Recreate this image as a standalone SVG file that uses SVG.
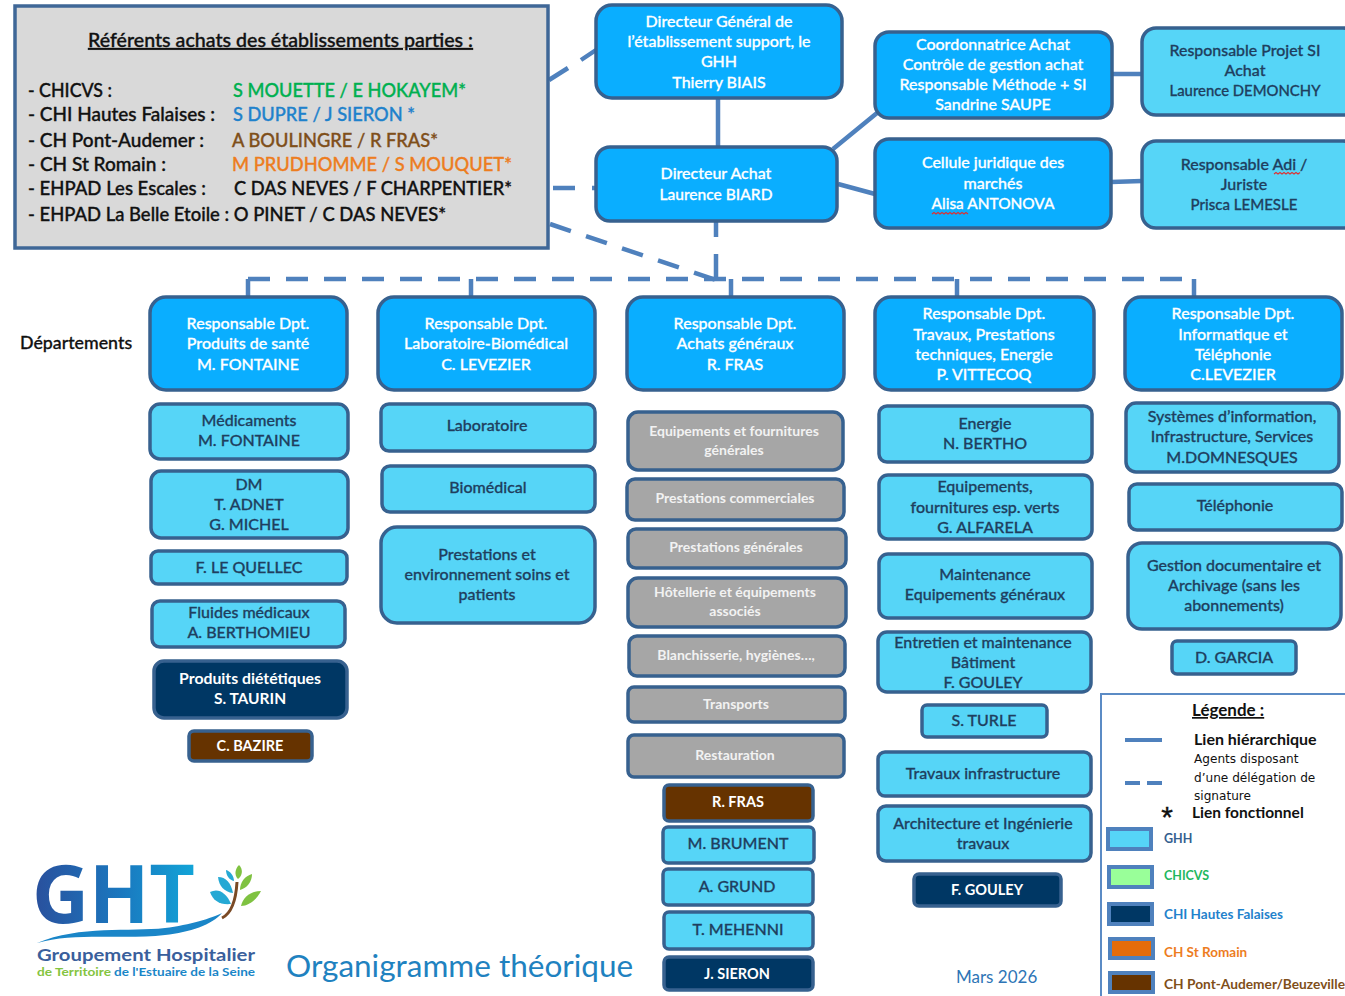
<svg xmlns="http://www.w3.org/2000/svg" width="1345" height="996" viewBox="0 0 1345 996">
<style>
text{font-family:"Lato","Liberation Sans",sans-serif;font-size:16px;font-weight:500}
.n rect{stroke:#37618f;stroke-width:3.5}
.n text{text-anchor:middle;stroke-width:.3}
.top rect{fill:#0aaeff}.top text{fill:#fff;stroke:#fff}
.lite rect{fill:#56d5f7}.lite text{fill:#1f3f5f;stroke:#1f3f5f;transform:translateY(.3px)}
.grey rect{fill:#a6a6a6}.grey text{font-size:14px;font-weight:700;fill:#f2f2f2;stroke:none}
.navy rect{fill:#003764}.brown rect{fill:#663300}
.navy text,.brown text{font-weight:700;font-size:14.5px;fill:#fff;stroke:none}
.sol{fill:none;stroke:#4f81bd;stroke-width:4.5}
.das{fill:none;stroke:#4f81bd;stroke-width:4.5}
.dash{stroke-dasharray:22 16}
.ref text{font-size:18.5px;stroke-width:.35}
.leg text{font-size:15.5px;fill:#111}
.small{font-size:12.1px!important;font-family:"DejaVu Sans",sans-serif!important;font-weight:400}
.sw rect{stroke:#4f81bd;stroke-width:4}
.sw text{font-size:13.5px;font-weight:700}
.wavy{fill:none;stroke:#e03030;stroke-width:1.1}
</style>
<defs>
<linearGradient id="g" x1="0" x2="1" y1="0" y2="0"><stop offset="0" stop-color="#2a4f9c"/><stop offset=".55" stop-color="#1a78bf"/><stop offset="1" stop-color="#12a5d8"/></linearGradient>
</defs>
<g id="connectors">
<path class="sol" d="M718 98V147M833 149L877 113M838 184L875 194M1112 74H1142M1111 182L1142 181"/>
<path class="das" d="M549 80L568 68M581 60L596 50M553 188H575M592 188H596M716 221V237M716 254V280"/>
<path class="das dash" d="M550 224L716 280"/>
<path class="das dash" d="M248 279H1195"/>
<path class="sol" d="M248 279V297M471 279V297M731 279V297M957 279V297M1194 279V297"/>
</g>
<g id="referents" class="ref" stroke="#111" fill="#111">
<rect x="15" y="6" width="533" height="242" fill="#d9d9d9" stroke="#3f6797" stroke-width="3.5"/>
<text x="88" y="47" textLength="385" lengthAdjust="spacingAndGlyphs" text-decoration="underline">Référents achats des établissements parties :</text>
<text x="28" y="97" textLength="84" lengthAdjust="spacingAndGlyphs">- CHICVS :</text><text x="233" y="97" fill="#00b050" stroke="#00b050" textLength="233" lengthAdjust="spacingAndGlyphs">S MOUETTE / E HOKAYEM*</text>
<text x="28" y="121" textLength="187" lengthAdjust="spacingAndGlyphs">- CHI Hautes Falaises :</text><text x="233" y="121" fill="#1f82cc" stroke="#1f82cc" textLength="182" lengthAdjust="spacingAndGlyphs">S DUPRE / J SIERON *</text>
<text x="28" y="147" textLength="176" lengthAdjust="spacingAndGlyphs">- CH Pont-Audemer :</text><text x="232" y="147" fill="#7f4f1a" stroke="#7f4f1a" textLength="206" lengthAdjust="spacingAndGlyphs">A BOULINGRE / R FRAS*</text>
<text x="28" y="171" textLength="138" lengthAdjust="spacingAndGlyphs">- CH St Romain :</text><text x="232" y="171" fill="#ed7d1f" stroke="#ed7d1f" textLength="280" lengthAdjust="spacingAndGlyphs">M PRUDHOMME / S MOUQUET*</text>
<text x="28" y="195" textLength="178" lengthAdjust="spacingAndGlyphs">- EHPAD Les Escales :</text><text x="234" y="195" textLength="278" lengthAdjust="spacingAndGlyphs">C DAS NEVES  / F CHARPENTIER*</text>
<text x="28" y="221" textLength="418" lengthAdjust="spacingAndGlyphs">- EHPAD La Belle Etoile : O PINET / C DAS NEVES*</text>
</g>
<g id="dg" class="n top"><rect x="596" y="5" width="246" height="93" rx="16"/><text x="719" y="27">Directeur Général de</text><text x="719" y="47">l’établissement support, le</text><text x="719" y="67">GHH</text><text x="719" y="88">Thierry BIAIS</text></g>
<g id="da" class="n top"><rect x="596" y="147" width="241" height="74" rx="14"/><text x="716" y="179">Directeur Achat</text><text x="716" y="200" textLength="113" lengthAdjust="spacingAndGlyphs">Laurence BIARD</text></g>
<g id="coord" class="n top"><rect x="875" y="32" width="237" height="86" rx="14"/><text x="993" y="50">Coordonnatrice Achat</text><text x="993" y="70">Contrôle de gestion achat</text><text x="993" y="90" textLength="187" lengthAdjust="spacingAndGlyphs">Responsable Méthode + SI</text><text x="993" y="110">Sandrine SAUPE</text></g>
<g id="cellule" class="n top"><rect x="875" y="139" width="236" height="89" rx="14"/><text x="993" y="168">Cellule juridique des</text><text x="993" y="189">marchés</text><text x="993" y="209" textLength="123" lengthAdjust="spacingAndGlyphs">Alisa ANTONOVA</text><path class="wavy" d="M932 214l2-1.500 2 1.500 2-1.500 2 1.500 2-1.500 2 1.500 2-1.500 2 1.500 2-1.500 2 1.500 2-1.500 2 1.500 2-1.500 2 1.500 2-1.500 2 1.500 2-1.500 2 1.500"/></g>
<g id="projet" class="n lite"><rect x="1142" y="28" width="215" height="87" rx="14"/><text x="1245" y="56" textLength="151" lengthAdjust="spacingAndGlyphs">Responsable Projet SI</text><text x="1245" y="76">Achat</text><text x="1245" y="96" textLength="151" lengthAdjust="spacingAndGlyphs">Laurence DEMONCHY</text></g>
<g id="adi" class="n lite"><rect x="1142" y="141" width="215" height="87" rx="14"/><text x="1244" y="170">Responsable Adi /</text><text x="1244" y="190">Juriste</text><text x="1244" y="210" textLength="107" lengthAdjust="spacingAndGlyphs">Prisca LEMESLE</text><path class="wavy" d="M1274 174l2-1.500 2 1.500 2-1.500 2 1.500 2-1.500 2 1.500 2-1.500 2 1.500 2-1.500 2 1.500 2-1.500 2 1.500 2-1.500"/></g>

<text id="departements" x="20" y="349" style="font-size:17.800px;stroke:#111;stroke-width:.3" fill="#111">Départements</text>

<g id="d1" class="n top"><rect x="150" y="297" width="197" height="93" rx="16"/><text x="248" y="329">Responsable Dpt.</text><text x="248" y="349">Produits de santé</text><text x="248" y="370">M. FONTAINE</text></g>
<g id="d2" class="n top"><rect x="378" y="297" width="217" height="93" rx="16"/><text x="486" y="329">Responsable Dpt.</text><text x="486" y="349">Laboratoire-Biomédical</text><text x="486" y="370">C. LEVEZIER</text></g>
<g id="d3" class="n top"><rect x="627" y="297" width="217" height="93" rx="16"/><text x="735" y="329">Responsable Dpt.</text><text x="735" y="349">Achats généraux</text><text x="735" y="370">R. FRAS</text></g>
<g id="d4" class="n top"><rect x="875" y="297" width="219" height="93" rx="16"/><text x="984" y="319">Responsable Dpt.</text><text x="984" y="340">Travaux, Prestations</text><text x="984" y="360">techniques, Energie</text><text x="984" y="380">P. VITTECOQ</text></g>
<g id="d5" class="n top"><rect x="1125" y="297" width="217" height="93" rx="16"/><text x="1233" y="319">Responsable Dpt.</text><text x="1233" y="340">Informatique et</text><text x="1233" y="360">Téléphonie</text><text x="1233" y="380">C.LEVEZIER</text></g>

<g id="c1a" class="n lite"><rect x="150" y="404" width="198" height="55" rx="10"/><text x="249" y="426">Médicaments</text><text x="249" y="446">M. FONTAINE</text></g>
<g id="c1b" class="n lite"><rect x="151" y="471" width="197" height="67" rx="10"/><text x="249" y="490">DM</text><text x="249" y="510">T. ADNET</text><text x="249" y="530">G. MICHEL</text></g>
<g id="c1c" class="n lite"><rect x="151" y="551" width="196" height="33" rx="7"/><text x="249" y="573">F. LE QUELLEC</text></g>
<g id="c1d" class="n lite"><rect x="152" y="601" width="193" height="46" rx="8"/><text x="249" y="618">Fluides médicaux</text><text x="249" y="638">A. BERTHOMIEU</text></g>
<g id="c1e" class="n navy"><rect x="154" y="661" width="193" height="57" rx="10"/><text x="250" y="684" style="font-size:15.800px">Produits diététiques</text><text x="250" y="704" style="font-size:15.500px">S. TAURIN</text></g>
<g id="c1f" class="n brown"><rect x="189" y="731" width="123" height="30" rx="5"/><text x="250" y="751">C. BAZIRE</text></g>

<g id="c2a" class="n lite"><rect x="381" y="404" width="214" height="47" rx="8"/><text x="487" y="431">Laboratoire</text></g>
<g id="c2b" class="n lite"><rect x="382" y="466" width="213" height="46" rx="8"/><text x="488" y="493">Biomédical</text></g>
<g id="c2c" class="n lite"><rect x="381" y="527" width="214" height="96" rx="16"/><text x="487" y="560">Prestations et</text><text x="487" y="580">environnement soins et</text><text x="487" y="600">patients</text></g>

<g id="c3a" class="n grey"><rect x="628" y="412" width="215" height="58" rx="10"/><text x="734" y="436">Equipements et fournitures</text><text x="734" y="455">générales</text></g>
<g id="c3b" class="n grey"><rect x="627" y="479" width="217" height="41" rx="8"/><text x="735" y="503">Prestations commerciales</text></g>
<g id="c3c" class="n grey"><rect x="628" y="529" width="218" height="39" rx="8"/><text x="736" y="552">Prestations générales</text></g>
<g id="c3d" class="n grey"><rect x="628" y="578" width="218" height="49" rx="10"/><text x="735" y="597">Hôtellerie et équipements</text><text x="735" y="616">associés</text></g>
<g id="c3e" class="n grey"><rect x="629" y="636" width="216" height="40" rx="8"/><text x="736" y="660">Blanchisserie, hygiènes…,</text></g>
<g id="c3f" class="n grey"><rect x="628" y="687" width="217" height="35" rx="6"/><text x="736" y="709">Transports</text></g>
<g id="c3g" class="n grey"><rect x="628" y="735" width="216" height="42" rx="6"/><text x="735" y="760">Restauration</text></g>
<g id="c3h" class="n brown"><rect x="664" y="785" width="149" height="36" rx="5"/><text x="738" y="807">R. FRAS</text></g>
<g id="c3i" class="n lite"><rect x="663" y="827" width="151" height="36" rx="5"/><text x="738" y="849">M. BRUMENT</text></g>
<g id="c3j" class="n lite"><rect x="663" y="869" width="150" height="36" rx="5"/><text x="737" y="892">A. GRUND</text></g>
<g id="c3k" class="n lite"><rect x="664" y="912" width="149" height="37" rx="5"/><text x="738" y="935">T. MEHENNI</text></g>
<g id="c3l" class="n navy"><rect x="664" y="957" width="149" height="33" rx="5"/><text x="737" y="979">J. SIERON</text></g>

<g id="c4a" class="n lite"><rect x="879" y="406" width="213" height="56" rx="8"/><text x="985" y="429">Energie</text><text x="985" y="449">N. BERTHO</text></g>
<g id="c4b" class="n lite"><rect x="879" y="475" width="213" height="64" rx="9"/><text x="985" y="492">Equipements,</text><text x="985" y="513">fournitures esp. verts</text><text x="985" y="533">G. ALFARELA</text></g>
<g id="c4c" class="n lite"><rect x="879" y="554" width="213" height="64" rx="9"/><text x="985" y="580">Maintenance</text><text x="985" y="600">Equipements généraux</text></g>
<g id="c4d" class="n lite"><rect x="878" y="632" width="213" height="60" rx="9"/><text x="983" y="648">Entretien et maintenance</text><text x="983" y="668">Bâtiment</text><text x="983" y="688">F. GOULEY</text></g>
<g id="c4e" class="n lite"><rect x="922" y="705" width="125" height="32" rx="5"/><text x="984" y="726">S. TURLE</text></g>
<g id="c4f" class="n lite"><rect x="878" y="752" width="213" height="44" rx="7"/><text x="983" y="779">Travaux infrastructure</text></g>
<g id="c4g" class="n lite"><rect x="878" y="806" width="213" height="55" rx="8"/><text x="983" y="829">Architecture et Ingénierie</text><text x="983" y="849">travaux</text></g>
<g id="c4h" class="n navy"><rect x="914" y="874" width="147" height="32" rx="5"/><text x="987" y="895">F. GOULEY</text></g>

<g id="c5a" class="n lite"><rect x="1126" y="403" width="213" height="69" rx="10"/><text x="1232" y="422">Systèmes d’information,</text><text x="1232" y="442">Infrastructure, Services</text><text x="1232" y="463">M.DOMNESQUES</text></g>
<g id="c5b" class="n lite"><rect x="1129" y="484" width="213" height="46" rx="8"/><text x="1235" y="511">Téléphonie</text></g>
<g id="c5c" class="n lite"><rect x="1128" y="543" width="213" height="86" rx="14"/><text x="1234" y="571">Gestion documentaire et</text><text x="1234" y="591">Archivage (sans les</text><text x="1234" y="611">abonnements)</text></g>
<g id="c5d" class="n lite"><rect x="1172" y="641" width="124" height="33" rx="5"/><text x="1234" y="663">D. GARCIA</text></g>

<g id="legende" class="leg">
<rect x="1101" y="694" width="260" height="320" fill="#fff" stroke="#5b8bc5" stroke-width="2"/>
<text x="1192" y="716" style="font-size:17px;font-weight:700" text-decoration="underline">Légende :</text>
<path d="M1125 740H1162" fill="none" stroke="#4f81bd" stroke-width="4"/>
<path d="M1125 783H1140M1147 783H1162" fill="none" stroke="#4f81bd" stroke-width="4"/>
<text x="1194" y="745" style="font-size:16px;font-weight:700">Lien hiérarchique</text>
<text class="small" x="1194" y="763">Agents disposant</text>
<text class="small" x="1194" y="782">d’une délégation de</text>
<text class="small" x="1194" y="800">signature</text>
<text x="1167" y="827" text-anchor="middle" style="font-size:30px;font-weight:400;font-family:'Liberation Sans',sans-serif;stroke:#111;stroke-width:.4">*</text>
<text x="1192" y="818" style="font-weight:700">Lien fonctionnel</text>
</g>
<g id="legend-swatches" class="sw">
<rect x="1108" y="829" width="43" height="20" fill="#56d5f7"/><text x="1164" y="843" fill="#35608f" style="font-size:12.500px">GHH</text>
<rect x="1109" y="867" width="43" height="20" fill="#99ff99"/><text x="1164" y="880" fill="#1fb860" style="font-size:12.500px">CHICVS</text>
<rect x="1109" y="904" width="43" height="20" fill="#003764"/><text x="1164" y="919" fill="#1f82cc">CHI Hautes Falaises</text>
<rect x="1110" y="939" width="43" height="19" fill="#e46c0a"/><text x="1164" y="957" fill="#ed7d1f">CH St Romain</text>
<rect x="1110" y="973" width="43" height="19" fill="#663300"/><text x="1164" y="989" fill="#7f4f1a" textLength="181" lengthAdjust="spacingAndGlyphs">CH Pont-Audemer/Beuzeville</text>
</g>
<g id="logo">
<text x="32" y="923" style="font-size:80px;font-weight:700;font-family:'Open Sans',sans-serif" fill="url(#g)" textLength="163" lengthAdjust="spacingAndGlyphs">GHT</text>
<path d="M37 943C80 925 130 932 165 928C190 925 212 918 222 913C212 925 190 932 165 935C125 940 75 932 37 943Z" fill="#1a86c8"/>
<path d="M222 918C232 913 236 900 237 882" fill="none" stroke="#7a4a25" stroke-width="3"/>
<path d="M210 892C218 888 226 892 231 904C220 905 213 901 210 892Z" fill="#25a9d4"/>
<path d="M218 877C226 877 231 883 233 893C224 892 219 886 218 877Z" fill="#25a9d4"/>
<path d="M226 870C230 871 234 876 234 881C229 880 226 875 226 870Z" fill="#25a9d4"/>
<path d="M239 865C243 869 243 875 238 879C234 875 235 869 239 865Z" fill="#7fc241"/>
<path d="M252 874C252 882 247 888 240 890C240 882 245 876 252 874Z" fill="#7fc241"/>
<path d="M261 891C257 899 249 906 241 906C243 897 251 891 261 891Z" fill="#7fc241"/>
<text x="37" y="961" style="font-size:17px;font-weight:700" fill="#3a5f9c" textLength="218" lengthAdjust="spacingAndGlyphs">Groupement Hospitalier</text>
<text x="37" y="975.500" style="font-size:11px;font-weight:700" fill="#84c441" textLength="74" lengthAdjust="spacingAndGlyphs">de Territoire</text>
<text x="114" y="975.500" style="font-size:11px;font-weight:700" fill="#1a86c8" textLength="141" lengthAdjust="spacingAndGlyphs">de l'Estuaire de la Seine</text>
</g>
<text id="titre" x="286" y="977" style="font-size:31.500px;font-weight:400" fill="#1f82c0">Organigramme théorique</text>
<text id="date" x="956" y="983" style="font-size:17px;font-weight:400" fill="#2e75b6">Mars 2026</text>
</svg>
